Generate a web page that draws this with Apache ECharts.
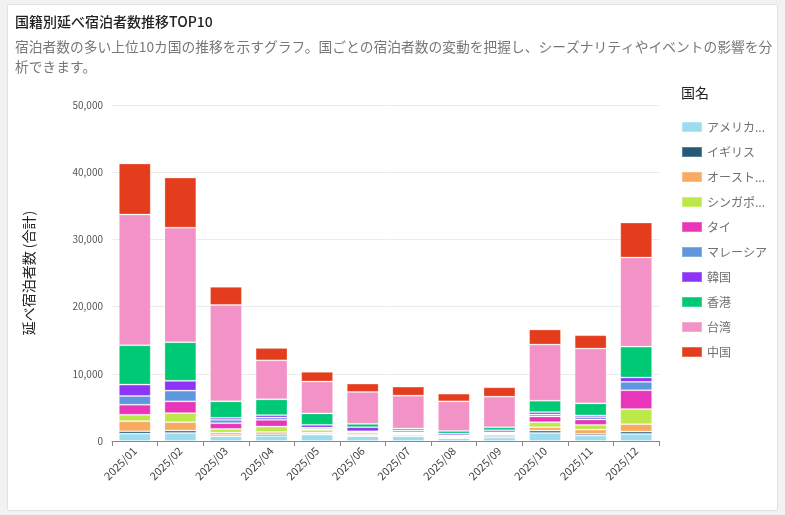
<!DOCTYPE html>
<html>
<head>
<meta charset="utf-8">
<script src="https://cdn.jsdelivr.net/npm/echarts@6/dist/echarts.min.js"></script>
<style>
  html, body { margin: 0; padding: 0; background: #f2f2f2; }
  #card {
    position: absolute; left: 7px; top: 4px; width: 769px; height: 505px;
    background: #fff; border: 1px solid #e2e2e2; border-radius: 2px;
  }
  #chart { position: absolute; left: 0; top: 0; width: 785px; height: 515px; }
</style>
</head>
<body>
<div id="card"></div>
<div id="chart"></div>
<script>
const months = ['2025/01', '2025/02', '2025/03', '2025/04', '2025/05', '2025/06',
  '2025/07', '2025/08', '2025/09', '2025/10', '2025/11', '2025/12']

const countries = ['アメリカ合衆国', 'イギリス', 'オーストラリア', 'シンガポール', 'タイ',
  'マレーシア', '韓国', '香港', '台湾', '中国']

const colors = ['#9cdcee', '#225a78', '#f8aa60', '#bce84a', '#e835b9',
  '#5f97de', '#8c35f6', '#00c975', '#f292c6', '#e43d1d']

// 延べ宿泊者数 (月別)
const usa = [1100, 1200, 700, 750, 950, 700, 700, 400, 500, 1200, 800, 1050]
const uk = [350, 350, 200, 250, 100, 100, 50, 100, 200, 350, 250, 350]
const australia = [1500, 1250, 350, 350, 200, 200, 200, 100, 250, 500, 650, 1100]
const singapore = [950, 1350, 550, 800, 400, 300, 100, 50, 100, 750, 700, 2250]
const thailand = [1500, 1750, 850, 1000, 150, 50, 100, 50, 150, 850, 800, 2800]
const malaysia = [1300, 1600, 500, 350, 200, 100, 150, 150, 100, 300, 350, 1250]
const korea = [1700, 1450, 300, 350, 400, 600, 250, 250, 300, 350, 250, 650]
const hongkong = [5850, 5750, 2450, 2350, 1700, 500, 300, 400, 450, 1700, 1800, 4600]
const taiwan = [19450, 17050, 14350, 5800, 4750, 4750, 4900, 4400, 4550, 8350, 8150, 13250]
const china = [7600, 7450, 2700, 1850, 1450, 1250, 1350, 1150, 1400, 2250, 2000, 5200]

const seriesData = [usa, uk, australia, singapore, thailand, malaysia, korea, hongkong, taiwan, china]

const yTicks = { min: 0, max: 50000, interval: 10000 }

const font = '"Noto Sans CJK JP", "Noto Sans", sans-serif'

const chart = echarts.init(document.getElementById('chart'))

const option = {
  color: colors,
  textStyle: { fontFamily: font },
  title: [
    {
      text: '国籍別延べ宿泊者数推移TOP10',
      subtext: '宿泊者数の多い上位10カ国の推移を示すグラフ。国ごとの宿泊者数の変動を把握し、シーズナリティやイベントの影響を分\n析できます。',
      left: 10,
      top: 10,
      itemGap: 8,
      textStyle: { fontSize: 14, fontWeight: 500, color: '#222', fontFamily: font },
      subtextStyle: { fontSize: 13.75, color: '#777', lineHeight: 20, fontFamily: font }
    },
    {
      text: '国名',
      left: 676,
      top: 81,
      textStyle: { fontSize: 14, fontWeight: 'normal', color: '#222', fontFamily: font }
    }
  ],
  legend: {
    orient: 'vertical',
    left: 676,
    top: 116,
    icon: 'rect',
    itemWidth: 20,
    itemHeight: 10,
    itemGap: 13,
    data: countries,
    textStyle: {
      fontSize: 12,
      color: '#707070',
      width: 66,
      overflow: 'truncate',
      ellipsis: '...',
      fontFamily: font
    }
  },
  grid: {
    left: 112,
    right: 126,
    top: 105,
    bottom: 74
  },
  xAxis: {
    type: 'category',
    data: months,
    axisLine: { lineStyle: { color: '#888' } },
    axisTick: { show: true, length: 5, lineStyle: { color: '#888' } },
    axisLabel: { rotate: 45, fontSize: 11, color: '#444', margin: 8 }
  },
  yAxis: {
    type: 'value',
    min: yTicks.min,
    max: yTicks.max,
    interval: yTicks.interval,
    name: '延べ宿泊者数 (合計)',
    nameLocation: 'middle',
    nameGap: 76,
    nameTextStyle: { fontSize: 14, color: '#222' },
    axisLine: { show: false },
    axisTick: { show: false },
    axisLabel: {
      fontSize: 10,
      color: '#555',
      margin: 9,
      formatter: v => v.toLocaleString('en-US')
    },
    splitLine: { lineStyle: { color: '#ebebeb' } }
  },
  series: countries.map((name, i) => ({
    name,
    type: 'bar',
    stack: 'total',
    barWidth: '70%',
    data: seriesData[i],
    itemStyle: {
      borderColor: 'rgba(255,255,255,0.25)',
      borderWidth: 1
    }
  }))
}

chart.setOption(option)
</script>
</body>
</html>
